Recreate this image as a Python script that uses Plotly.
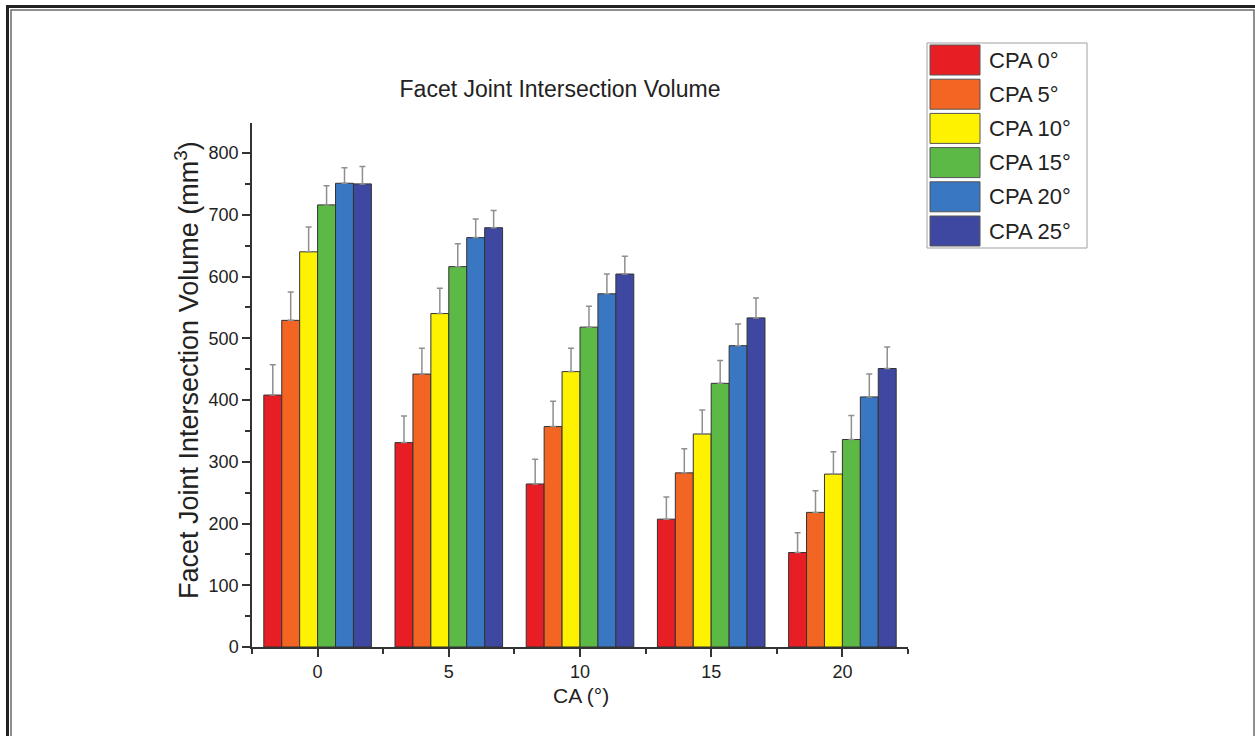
import plotly.graph_objects as go

# ---- data ----
ca_values = [0, 5, 10, 15, 20]
series_names = ["CPA 0°", "CPA 5°", "CPA 10°", "CPA 15°", "CPA 20°", "CPA 25°"]
cpa0 = [408, 331, 264, 207, 153]
cpa5 = [529, 442, 357, 282, 218]
cpa10 = [640, 540, 446, 345, 280]
cpa15 = [716, 616, 518, 427, 336]
cpa20 = [751, 663, 572, 488, 405]
cpa25 = [750, 679, 604, 533, 451]
err0 = [49, 43, 40, 36, 32]
err5 = [46, 42, 41, 39, 35]
err10 = [40, 41, 38, 39, 36]
err15 = [31, 37, 34, 37, 39]
err20 = [25, 30, 32, 35, 37]
err25 = [28, 28, 29, 32, 35]
x_ticks = [0, 5, 10, 15, 20]
y_ticks = [0, 100, 200, 300, 400, 500, 600, 700, 800]

values = [cpa0, cpa5, cpa10, cpa15, cpa20, cpa25]
errors = [err0, err5, err10, err15, err20, err25]
colors = ["#e81e25", "#f26522", "#fff200", "#5cb946", "#3a77c2", "#3f48a0"]

W, H = 1255, 736
L, R, T, B = 252, 347, 123, 89
PW, PH = W - L - R, H - T - B
FONT = "Liberation Sans, Arial, sans-serif"
TXT = "#222222"


def px(x):
    return (x - L) / PW


def py(y):
    return (H - B - y) / PH


fig = go.Figure()
for name, vals, errs, col in zip(series_names, values, errors, colors):
    fig.add_trace(go.Bar(
        x=ca_values, y=vals, name=name,
        marker=dict(color=col, line=dict(color="#333333", width=1)),
        error_y=dict(type="data", array=errs, arrayminus=[0] * len(errs),
                     symmetric=False, color="#8f8f8f", thickness=1.5, width=3),
        showlegend=False,
    ))

shapes = []
annotations = []

# custom legend built from the series lists
shapes.append(dict(type="rect", xref="paper", yref="paper",
                   x0=px(927), x1=px(1087), y0=py(43), y1=py(248),
                   line=dict(color="#a0a0a0", width=1), fillcolor="white"))
row_h = 34.2
for i, (name, col) in enumerate(zip(series_names, colors)):
    top = 45 + i * row_h
    shapes.append(dict(type="rect", xref="paper", yref="paper",
                       x0=px(930), x1=px(980), y0=py(top + 30), y1=py(top),
                       line=dict(color="#555555", width=1), fillcolor=col))
    annotations.append(dict(xref="paper", yref="paper", x=px(987), y=py(top + 15),
                            xanchor="left", yanchor="middle", showarrow=False,
                            text=name, font=dict(family=FONT, size=22, color=TXT)))

# page frame
shapes.append(dict(type="path", xref="paper", yref="paper",
                   path=f"M {px(7.5)},{py(740)} L {px(7.5)},{py(6.5)} L {px(1260)},{py(6.5)}",
                   line=dict(color="#222222", width=3)))
shapes.append(dict(type="path", xref="paper", yref="paper",
                   path=f"M {px(11)},{py(740)} L {px(11)},{py(10)} L {px(1254)},{py(10)} L {px(1254)},{py(740)}",
                   line=dict(color="#6a6a6a", width=1.5)))
# small y-axis extension below zero
shapes.append(dict(type="line", xref="paper", yref="paper",
                   x0=0, x1=0, y0=0, y1=py(653),
                   line=dict(color="#333333", width=1.5)))

# axis titles
annotations.append(dict(xref="paper", yref="paper", x=px(581), y=py(695),
                        xanchor="center", yanchor="middle", showarrow=False,
                        text="CA (°)", font=dict(family=FONT, size=21, color=TXT)))
annotations.append(dict(xref="paper", yref="paper", x=px(187), y=py(370),
                        xanchor="center", yanchor="middle", showarrow=False, textangle=-90,
                        text="Facet Joint Intersection Volume (mm<sup>3</sup>)",
                        font=dict(family=FONT, size=27, color=TXT)))

fig.update_layout(
    width=W, height=H,
    margin=dict(l=L, r=R, t=T, b=B, autoexpand=False),
    paper_bgcolor="white", plot_bgcolor="white",
    barmode="group", bargap=0.18, bargroupgap=0,
    title=dict(text="Facet Joint Intersection Volume", x=560 / W, xref="container",
               xanchor="center", y=1 - 89 / H, yref="container", yanchor="middle",
               font=dict(family=FONT, size=23, color=TXT)),
    shapes=shapes, annotations=annotations,
    xaxis=dict(range=[-2.5, 22.5], tickmode="array", tickvals=x_ticks,
               ticktext=[str(v) for v in x_ticks],
               ticks="outside", ticklen=8, tickwidth=1.5, tickcolor="#333333",
               showline=True, linecolor="#333333", linewidth=1.5,
               showgrid=False, zeroline=False,
               tickfont=dict(family=FONT, size=18, color=TXT),
               minor=dict(tickmode="array", tickvals=[-2.5, 2.5, 7.5, 12.5, 17.5, 22.5],
                          ticks="outside", ticklen=5, tickwidth=1.5, tickcolor="#333333",
                          showgrid=False)),
    yaxis=dict(range=[0, 848.6], tickmode="array", tickvals=y_ticks,
               ticks="outside", ticklen=8, tickwidth=1.5, tickcolor="#333333",
               showline=True, linecolor="#333333", linewidth=1.5,
               showgrid=False, zeroline=False,
               tickfont=dict(family=FONT, size=18, color=TXT),
               minor=dict(tickmode="array", tickvals=[50, 150, 250, 350, 450, 550, 650, 750],
                          ticks="outside", ticklen=5, tickwidth=1.5, tickcolor="#333333",
                          showgrid=False)),
)

fig.write_html("out.html")
